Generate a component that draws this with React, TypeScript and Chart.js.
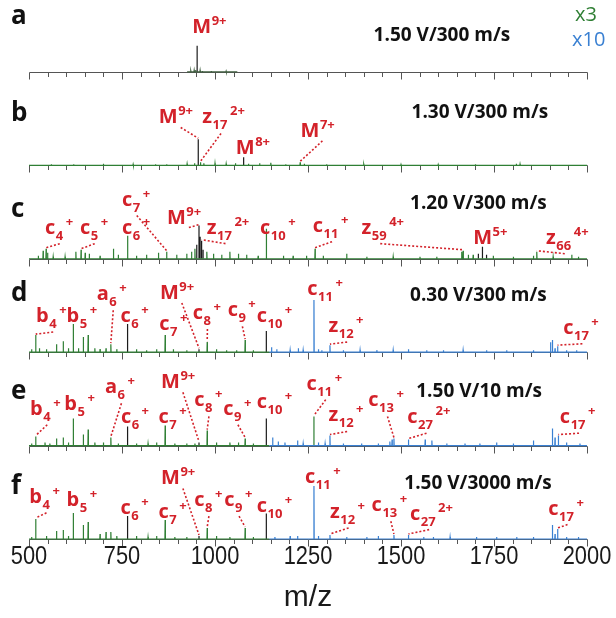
import { useEffect, useRef } from 'react';
import { Chart, registerables } from 'chart.js';

Chart.register(...registerables);

type Peak = [number, number];
// [ion letter, subscript, charge, peak m/z, label left m/z, label baseline height, dotted leader]
type Label = [string, string, string, number, number, number, boolean];

// ---- axis ----
const MZ_MIN = 500;
const MZ_MAX = 2000;
const MZ_MINOR = 50;
const xTickLabels = [500, 750, 1000, 1250, 1500, 1750, 2000];

// ---- panels ----
const panelLetters = ['a', 'b', 'c', 'd', 'e', 'f'];
const conditions = [
  '1.50 V/300 m/s',
  '1.30 V/300 m/s',
  '1.20 V/300 m/s',
  '0.30 V/300 m/s',
  '1.50 V/10 m/s',
  '1.50 V/3000 m/s',
];

// ---- spectra: [m/z, intensity] ----
const aTrace: Peak[] = [[935, 1], [944, 1.5], [948, 2], [960, 1.5], [966, 1], [975, 0.8], [990, 1], [1010, 0.6], [1030, 0.8]];
const aMain: Peak[] = [[952, 26]];

const bTrace: Peak[] = [
  [560, 1], [620, 1], [700, 1.5], [780, 1], [840, 1], [870, 1], [925, 1.5], [945, 2], [961, 3], [970, 2],
  [1000, 2], [1030, 1.5], [1055, 2], [1090, 1.5], [1120, 2], [1150, 2.5], [1190, 1.2], [1229, 3], [1240, 1.5],
  [1300, 1], [1400, 1], [1500, 0.8], [1600, 0.8], [1700, 1], [1810, 1.5], [1820, 1.2],
];
const bMain: Peak[] = [[955, 26], [1077, 8]];

const cTrace: Peak[] = [
  [525, 3], [538, 8], [546, 10], [550, 6], [565, 2], [597, 2], [626, 7], [640, 9], [651, 6], [662, 5],
  [691, 3], [727, 10], [740, 4], [765, 23], [789, 3], [816, 4], [848, 6], [870, 7], [897, 4], [924, 5],
  [937, 7], [946, 10], [978, 7], [996, 5], [1018, 4], [1040, 7], [1063, 5], [1085, 4], [1116, 3], [1138, 30],
  [1184, 3], [1210, 3], [1246, 3], [1269, 10], [1291, 3], [1354, 5], [1408, 2], [1479, 2], [1551, 2], [1596, 2],
  [1663, 7], [1667, 8], [1681, 4], [1694, 4], [1748, 3], [1802, 2], [1856, 3], [1865, 7], [1909, 2], [1959, 4], [1977, 2],
];
const cMain: Peak[] = [[951, 14], [957, 33], [960, 22], [964, 18], [968, 9], [1708, 5], [1719, 12], [1730, 4]];

const dGreen: Peak[] = [
  [507, 3], [518, 17], [528, 4], [547, 3], [574, 8], [592, 11], [606, 4], [619, 28], [633, 4], [646, 15],
  [659, 17], [677, 4], [691, 3], [707, 4], [720, 8], [736, 3], [789, 3], [816, 2], [843, 3], [866, 17],
  [888, 3], [924, 2], [979, 10], [1004, 3], [1031, 2], [1058, 2], [1081, 12], [1103, 2],
];
const dMain: Peak[] = [[765, 28], [957, 3], [1138, 21]];
const dBlue: Peak[] = [
  [1152, 5], [1166, 3], [1202, 2], [1224, 4], [1237, 2], [1266, 52], [1278, 3], [1287, 2], [1309, 7], [1345, 2],
  [1390, 2], [1435, 2], [1479, 2], [1520, 3], [1569, 2], [1614, 2], [1667, 2], [1730, 2], [1784, 2], [1856, 2],
  [1902, 10], [1907, 12], [1914, 4], [1921, 6], [1945, 2], [1972, 2],
];

const eGreen: Peak[] = [
  [507, 2], [518, 9], [543, 3], [556, 2], [574, 7], [592, 8], [606, 3], [619, 27], [646, 11], [659, 16],
  [677, 3], [700, 3], [720, 8], [740, 2], [789, 2], [820, 2], [843, 3], [866, 20], [892, 2], [924, 2],
  [946, 2], [979, 15], [1004, 3], [1040, 3], [1063, 3], [1081, 7], [1103, 2],
];
const eMain: Peak[] = [[765, 19], [957, 3], [1138, 27]];
const eGreenTall: Peak[] = [[1266, 29]];
const eBlue: Peak[] = [
  [1155, 8], [1170, 4], [1188, 3], [1222, 5], [1237, 2], [1278, 3], [1296, 2], [1309, 10], [1345, 2], [1394, 2],
  [1439, 2], [1470, 4], [1476, 6], [1481, 7], [1520, 6], [1565, 6], [1583, 5], [1623, 2], [1672, 2], [1712, 2],
  [1757, 3], [1802, 2], [1856, 5], [1907, 17], [1914, 8], [1923, 10], [1945, 3], [1981, 2],
];

const fGreen: Peak[] = [
  [507, 2], [518, 20], [547, 3], [574, 8], [592, 9], [606, 3], [619, 26], [646, 14], [659, 17], [691, 5],
  [707, 7], [720, 7], [736, 3], [789, 3], [820, 2], [843, 3], [866, 19], [892, 2], [924, 2], [979, 11],
  [1004, 3], [1040, 2], [1081, 11], [1103, 2],
];
const fMain: Peak[] = [[765, 23], [957, 3], [1138, 25.5]];
const fBlue: Peak[] = [
  [1161, 2], [1202, 3], [1222, 3], [1266, 52.7], [1278, 3], [1309, 4], [1354, 2], [1408, 2], [1439, 3], [1481, 4],
  [1520, 4], [1561, 2], [1587, 2], [1632, 2], [1703, 2], [1757, 2], [1811, 2], [1856, 2], [1907, 14], [1914, 5],
  [1921, 10], [1945, 2], [1977, 2],
];

// ---- fragment annotations ----
const aLabels: Label[] = [['M', '', '9+', 952, 939, 39, false]];
const bLabels: Label[] = [
  ['M', '', '9+', 955, 849, 41.7, true],
  ['z', '17', '2+', 961, 966, 41.7, true],
  ['M', '', '8+', 1077, 1056, 11.7, false],
  ['M', '', '7+', 1229, 1230, 28.3, true],
];
const cLabels: Label[] = [
  ['c', '4', '+', 546, 543, 25, true],
  ['c', '5', '+', 640, 637, 25, true],
  ['c', '6', '+', 765, 750, 25, false],
  ['c', '7', '+', 870, 750, 53, true],
  ['M', '', '9+', 957, 871, 35, true],
  ['z', '17', '2+', 964, 978, 25, true],
  ['c', '10', '+', 1138, 1121, 25, false],
  ['c', '11', '+', 1269, 1263, 27, true],
  ['z', '59', '4+', 1667, 1394, 25, true],
  ['M', '', '5+', 1719, 1694, 15, false],
  ['z', '66', '4+', 1865, 1890, 15, true],
];
const dLabels: Label[] = [
  ['b', '4', '+', 518, 519, 30, true],
  ['b', '5', '+', 619, 601, 30, false],
  ['a', '6', '+', 720, 682, 51.7, true],
  ['M', '', '9+', 957, 852, 53, true],
  ['c', '6', '+', 765, 746, 30, false],
  ['c', '7', '+', 866, 850, 21.7, false],
  ['c', '8', '+', 979, 940, 33, true],
  ['c', '9', '+', 1081, 1034, 35.7, true],
  ['c', '10', '+', 1138, 1112, 30, false],
  ['c', '11', '+', 1266, 1248, 57, false],
  ['z', '12', '+', 1309, 1305, 20, true],
  ['c', '17', '+', 1921, 1936, 18.3, true],
];
const eLabels: Label[] = [
  ['b', '4', '+', 518, 503, 30.7, true],
  ['b', '5', '+', 619, 595, 35.7, false],
  ['a', '6', '+', 720, 704, 52, true],
  ['M', '', '9+', 957, 855, 57, true],
  ['c', '6', '+', 765, 747, 22.3, false],
  ['c', '7', '+', 866, 848, 22.3, false],
  ['c', '8', '+', 979, 944, 39, true],
  ['c', '9', '+', 1081, 1022, 30.7, true],
  ['c', '10', '+', 1138, 1112, 37.3, false],
  ['c', '11', '+', 1266, 1246, 55.7, true],
  ['z', '12', '+', 1309, 1305, 24, true],
  ['c', '13', '+', 1481, 1412, 39, true],
  ['c', '27', '2+', 1520, 1517, 22.3, true],
  ['c', '17', '+', 1923, 1927, 22.3, true],
];
const fLabels: Label[] = [
  ['b', '4', '+', 518, 501, 36, true],
  ['b', '5', '+', 619, 601, 32.7, false],
  ['c', '6', '+', 765, 746, 24.5, false],
  ['c', '7', '+', 866, 848, 20.5, false],
  ['M', '', '9+', 957, 855, 54.3, true],
  ['c', '8', '+', 979, 944, 32.7, true],
  ['c', '9', '+', 1081, 1025, 32.7, true],
  ['c', '10', '+', 1138, 1112, 27, false],
  ['c', '11', '+', 1266, 1242, 56, false],
  ['z', '12', '+', 1309, 1309, 21, true],
  ['c', '13', '+', 1481, 1421, 27.7, true],
  ['c', '27', '2+', 1520, 1524, 19.3, true],
  ['c', '17', '+', 1921, 1896, 24.3, true],
];

// ---- styling / placement ----
const FONT = '"Open Sans", "DejaVu Sans", sans-serif';
const AXIS_FONT = '"Liberation Sans", Arial, sans-serif';
const GREEN = '#2f7f34';
const BLUE = '#3a80d2';
const BLACK = '#1b1b1b';
const RED = '#d3222a';
const AXIS = '#555555';
const PANEL_SPAN = 93; // intensity units covered by one full-height panel
const TOP_PANEL_WEIGHT = 0.77;
const titleMz = [1610, 1712, 1708, 1708, 1710, 1707];
const titleHeight = [36, 52.7, 55, 56, 54, 55.3];
const letterHeight = [55, 52, 49, 58, 54, 52];

type Panel = {
  id: string;
  green: Peak[];
  greenRange: [number, number];
  blue: Peak[];
  blueRange: [number, number] | null;
  main: Peak[];
  extra: Peak[];
  labels: Label[];
};

const panels: Panel[] = [
  { id: 'pa', green: aTrace, greenRange: [925, 1060], blue: [], blueRange: null, main: aMain, extra: [], labels: aLabels },
  { id: 'pb', green: bTrace, greenRange: [MZ_MIN, MZ_MAX], blue: [], blueRange: null, main: bMain, extra: [], labels: bLabels },
  { id: 'pc', green: cTrace, greenRange: [MZ_MIN, MZ_MAX], blue: [], blueRange: null, main: cMain, extra: [], labels: cLabels },
  { id: 'pd', green: dGreen, greenRange: [MZ_MIN, 1146], blue: dBlue, blueRange: [1146, MZ_MAX], main: dMain, extra: [], labels: dLabels },
  { id: 'pe', green: eGreen, greenRange: [MZ_MIN, 1146], blue: eBlue, blueRange: [1146, MZ_MAX], main: eMain, extra: eGreenTall, labels: eLabels },
  { id: 'pf', green: fGreen, greenRange: [MZ_MIN, 1146], blue: fBlue, blueRange: [1146, MZ_MAX], main: fMain, extra: [], labels: fLabels },
];

type Pt = { x: number; y: number | null };

// stick spectrum sitting on a continuous baseline
function baselineTrace(peaks: Peak[], range: [number, number]): Pt[] {
  const pts: Pt[] = [{ x: range[0], y: 0 }];
  [...peaks].sort((p, q) => p[0] - q[0]).forEach(([mz, h]) => {
    pts.push({ x: mz - 0.6, y: 0 }, { x: mz, y: h }, { x: mz + 0.6, y: 0 });
  });
  pts.push({ x: range[1], y: 0 });
  return pts;
}

// isolated sticks without a baseline
function sticks(peaks: Peak[]): Pt[] {
  const pts: Pt[] = [];
  peaks.forEach(([mz, h]) => {
    pts.push({ x: mz, y: 0 }, { x: mz, y: h }, { x: mz, y: null });
  });
  return pts;
}

function peakHeight(p: Panel, mz: number): number {
  const all = [...p.green, ...p.blue, ...p.main, ...p.extra];
  let best = all[0];
  all.forEach((pk) => {
    if (Math.abs(pk[0] - mz) < Math.abs(best[0] - mz)) best = pk;
  });
  return best ? best[1] : 0;
}

const spectrumDecor = {
  id: 'spectrumDecor',
  beforeDatasetsDraw(chart: any) {
    const { ctx } = chart;
    const xs = chart.scales.x;
    ctx.save();
    ctx.strokeStyle = AXIS;
    ctx.lineWidth = 1;
    panels.forEach((p) => {
      const ys = chart.scales[p.id];
      const y0 = Math.round(ys.getPixelForValue(0)) + 0.5;
      ctx.beginPath();
      ctx.moveTo(Math.round(xs.getPixelForValue(MZ_MIN)) + 0.5, y0);
      ctx.lineTo(Math.round(xs.getPixelForValue(MZ_MAX)) + 0.5, y0);
      for (let v = MZ_MIN; v <= MZ_MAX; v += MZ_MINOR) {
        const x = Math.round(xs.getPixelForValue(v)) + 0.5;
        const len = xTickLabels.includes(v) ? 7 : 4.5;
        ctx.moveTo(x, y0);
        ctx.lineTo(x, y0 + len);
      }
      ctx.stroke();
    });
    ctx.restore();
  },
  afterDatasetsDraw(chart: any) {
    const { ctx } = chart;
    const xs = chart.scales.x;
    ctx.save();
    panels.forEach((p, i) => {
      const ys = chart.scales[p.id];
      // panel letter
      ctx.fillStyle = '#111';
      ctx.font = `bold 26px ${FONT}`;
      ctx.textAlign = 'left';
      ctx.textBaseline = 'middle';
      ctx.fillText(panelLetters[i], 11, ys.getPixelForValue(letterHeight[i]));
      // condition
      ctx.font = `bold 19px ${FONT}`;
      ctx.textAlign = 'center';
      ctx.fillText(conditions[i], xs.getPixelForValue(titleMz[i]), ys.getPixelForValue(titleHeight[i]));

      // fragment labels
      ctx.textAlign = 'left';
      ctx.textBaseline = 'alphabetic';
      p.labels.forEach(([ion, sub, charge, peakMz, labelMz, labelH, leader]) => {
        const lx = xs.getPixelForValue(labelMz);
        const ly = ys.getPixelForValue(labelH);
        ctx.fillStyle = RED;
        ctx.font = `bold 20px ${FONT}`;
        ctx.fillText(ion, lx, ly);
        const ionW = ctx.measureText(ion).width;
        ctx.font = `bold 13px ${FONT}`;
        let subW = 0;
        if (sub) {
          ctx.fillText(sub, lx + ionW + 0.5, ly + 6);
          subW = ctx.measureText(sub).width;
        }
        const supX = sub ? lx + ionW + subW + 3 : lx + ionW + 0.5;
        ctx.fillText(charge, supX, ly - 8);
        if (leader) {
          const sx = sub ? lx + ionW + subW * 0.6 : lx + ionW + 3;
          const sy = sub ? ly + 10 : ly + 4;
          const ex = xs.getPixelForValue(peakMz);
          const ey = ys.getPixelForValue(peakHeight(p, peakMz)) - 1;
          ctx.strokeStyle = RED;
          ctx.lineWidth = 1.6;
          ctx.setLineDash([2, 2]);
          ctx.beginPath();
          ctx.moveTo(sx, sy);
          ctx.lineTo(ex, ey);
          ctx.stroke();
          ctx.setLineDash([]);
        }
      });
    });

    // scaling factors of the two spectral regions
    ctx.font = `20px ${FONT}`;
    ctx.textAlign = 'left';
    ctx.textBaseline = 'middle';
    ctx.fillStyle = GREEN;
    ctx.fillText('x3', 575, 15);
    ctx.fillStyle = BLUE;
    ctx.fillText('x10', 572, 40);

    // m/z tick labels of the shared axis, set in a condensed face
    const base = xs.top;
    ctx.fillStyle = '#1a1a1a';
    ctx.font = `26px ${AXIS_FONT}`;
    ctx.textAlign = 'center';
    xs.ticks.forEach((t: any) => {
      ctx.save();
      ctx.translate(xs.getPixelForValue(t.value), base + 18);
      ctx.scale(0.84, 1);
      ctx.fillText(String(t.value), 0, 0);
      ctx.restore();
    });
    ctx.restore();
  },
};

export default function App() {
  const canvasRef = useRef<HTMLCanvasElement | null>(null);

  useEffect(() => {
    if (!canvasRef.current) return;
    const datasets: any[] = [];
    panels.forEach((p) => {
      const common = { yAxisID: p.id, pointRadius: 0, borderWidth: 1.2, tension: 0, clip: false, fill: false };
      datasets.push({ ...common, data: baselineTrace(p.green, p.greenRange), borderColor: p.id === 'pa' ? '#3f5f3f' : GREEN });
      if (p.blueRange) datasets.push({ ...common, data: baselineTrace(p.blue, p.blueRange), borderColor: BLUE });
      datasets.push({ ...common, data: sticks(p.main), borderColor: BLACK });
      if (p.extra.length) datasets.push({ ...common, data: sticks(p.extra), borderColor: GREEN });
    });

    const yScales: any = {};
    panels.forEach((p, i) => {
      const weight = i === 0 ? TOP_PANEL_WEIGHT : 1;
      yScales[p.id] = {
        type: 'linear',
        position: 'right',
        stack: 'panels',
        stackWeight: weight,
        min: 0,
        max: PANEL_SPAN * weight,
        display: false,
      };
    });

    const chart = new Chart(canvasRef.current, {
      type: 'line',
      data: { datasets },
      options: {
        animation: false,
        responsive: false,
        events: [],
        layout: { padding: { left: 29, right: 29, top: 0, bottom: 0 } },
        plugins: { legend: { display: false }, tooltip: { enabled: false }, title: { display: false } },
        scales: {
          x: {
            type: 'linear',
            min: MZ_MIN,
            max: MZ_MAX,
            position: 'bottom',
            grid: { display: false, drawTicks: false },
            border: { display: false },
            afterBuildTicks: (axis: any) => {
              axis.ticks = xTickLabels.map((v) => ({ value: v }));
            },
            ticks: { display: false },
            title: {
              display: true,
              text: 'm/z',
              color: '#1a1a1a',
              padding: { top: 39, bottom: 0 },
              font: { family: AXIS_FONT, size: 30, lineHeight: 1.333 },
            },
          },
          ...yScales,
        },
      },
      plugins: [spectrumDecor],
    });
    return () => chart.destroy();
  }, []);

  return (
    <div style={{ position: 'absolute', left: 0, top: 0, width: 616, height: 618, background: '#fff' }}>
      <canvas ref={canvasRef} width={616} height={618} style={{ display: 'block' }} />
    </div>
  );
}
